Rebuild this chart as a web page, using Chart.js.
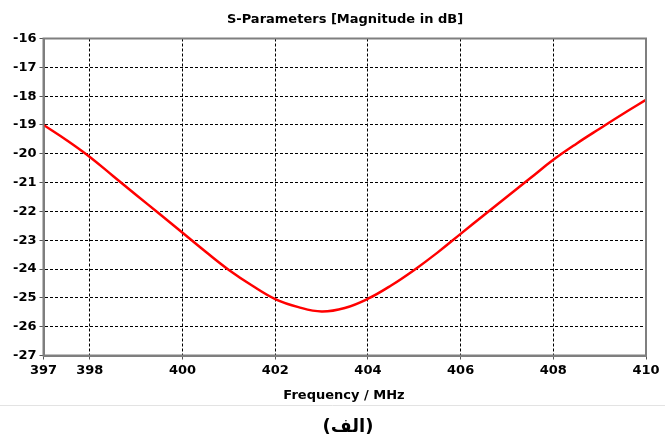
<!DOCTYPE html>
<html>
<head>
<meta charset="utf-8">
<script src="https://cdn.jsdelivr.net/npm/chart.js@4"></script>
<style>
  html, body { margin: 0; padding: 0; background: #fff; }
  #wrap { width: 665px; height: 441px; position: relative; }
</style>
</head>
<body>
<div id="wrap"><canvas id="myChart" width="665" height="441"></canvas></div>
<script>
// S11 magnitude
var freq = [397, 397.5, 398, 398.5, 399, 399.5, 400, 400.5, 401, 401.5, 402, 402.5, 403,
  403.5, 404, 404.5, 405, 405.5, 406, 406.5, 407, 407.5, 408, 408.5, 409, 409.5, 410];
var s11 = [-19.0, -19.53, -20.11, -20.77, -21.43, -22.08, -22.74, -23.40, -24.03, -24.57, -25.04, -25.32, -25.47,
  -25.35, -25.03, -24.57, -24.03, -23.43, -22.78, -22.13, -21.49, -20.85, -20.21, -19.65, -19.13, -18.62, -18.13];
var xTicks = [397, 398, 400, 402, 404, 406, 408, 410];
var chartTitle = 'S-Parameters [Magnitude in dB]';
var xTitle = 'Frequency / MHz';
var caption = '(الف)';

var font = '"DejaVu Sans", Verdana, sans-serif';

// frame, titles, separator and caption
var extras = {
  id: 'extras',
  afterDraw: function(chart) {
    var c = chart.ctx, a = chart.chartArea;
    c.save();
    c.strokeStyle = '#7f7f7f';
    c.lineWidth = 2;
    c.strokeRect(a.left, a.top, a.right - a.left, a.bottom - a.top);
    c.fillStyle = '#000';
    c.textAlign = 'center';
    c.textBaseline = 'alphabetic';
    c.font = 'bold 13px ' + font;
    c.fillText(chartTitle, 345, 22.5);
    c.fillText(xTitle, 344, 399);
    c.strokeStyle = '#e3e3e3';
    c.lineWidth = 1;
    c.beginPath();
    c.moveTo(0, 405.5);
    c.lineTo(665, 405.5);
    c.stroke();
    c.font = 'bold 18px ' + font;
    c.textBaseline = 'middle';
    c.fillText(caption, 348, 427);
    c.restore();
  }
};

var ctx = document.getElementById('myChart').getContext('2d');

var myChart = new Chart(ctx, {
  type: 'line',
  data: {
    datasets: [{
      data: freq.map(function(f, i) { return { x: f, y: s11[i] }; }),
      borderColor: '#ff0000',
      borderWidth: 2.5,
      pointRadius: 0,
      tension: 0.4
    }]
  },
  plugins: [extras],
  options: {
    responsive: false,
    animation: false,
    layout: { padding: { left: 0, right: 19, top: 38.5, bottom: 0 } },
    plugins: {
      legend: { display: false },
      tooltip: { enabled: false }
    },
    scales: {
      x: {
        type: 'linear',
        min: 397,
        max: 410,
        afterBuildTicks: function(scale) {
          scale.ticks = xTicks.map(function(v) { return { value: v }; });
        },
        afterFit: function(scale) { scale.height = 441 - 355.5; },
        grid: { color: '#000', tickColor: '#555', tickLength: 4, lineWidth: 1 },
        border: { color: '#7f7f7f', width: 2, dash: [3, 2] },
        ticks: {
          color: '#000',
          padding: 3,
          maxRotation: 0,
          font: { family: font, size: 13, weight: 'bold' },
          callback: function(v) { return v; }
        }
      },
      y: {
        min: -27,
        max: -16,
        afterFit: function(scale) { scale.width = 43.5; },
        grid: { color: '#000', tickColor: '#555', tickLength: 4, lineWidth: 1 },
        border: { color: '#7f7f7f', width: 2, dash: [3, 2] },
        ticks: {
          stepSize: 1,
          color: '#000',
          padding: 3,
          font: { family: font, size: 13, weight: 'bold' }
        }
      }
    }
  }
});
</script>
</body>
</html>
